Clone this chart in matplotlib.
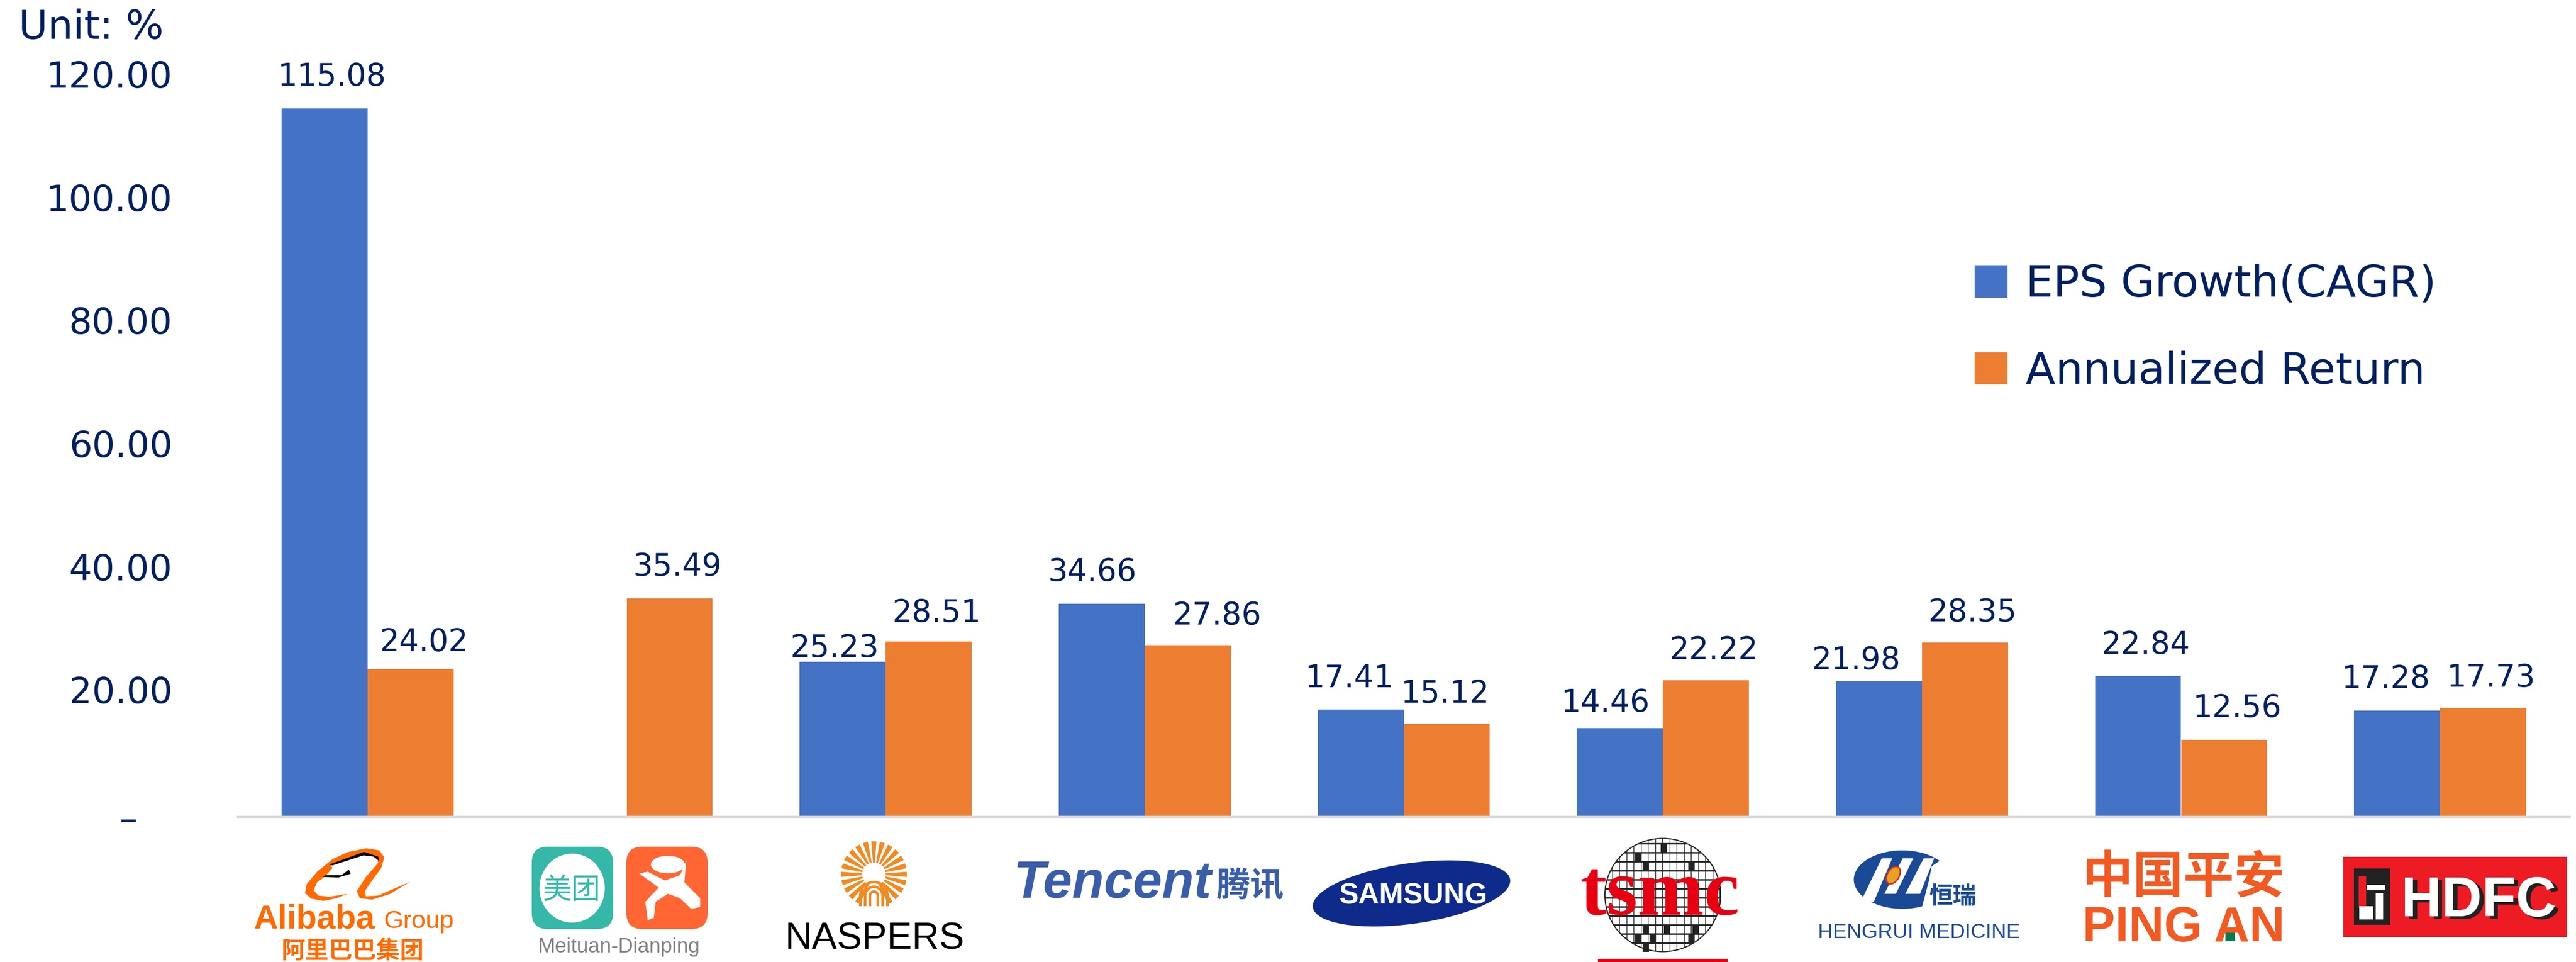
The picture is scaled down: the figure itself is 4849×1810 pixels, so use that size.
import numpy as np
import matplotlib
matplotlib.use("Agg")
import matplotlib.pyplot as plt
from matplotlib.patches import Ellipse, FancyBboxPatch, Polygon, Rectangle, Wedge
from matplotlib.transforms import ScaledTranslation

##EPS growth vs annualized return, one pair of bars per company
companies = ["Alibaba", "Meituan", "Naspers", "Tencent", "Samsung", "TSMC", "Hengrui", "Ping An", "HDFC"]
eps_growth = [115.08, np.nan, 25.23, 34.66, 17.41, 14.46, 21.98, 22.84, 17.28]
annual_return = [24.02, 35.49, 28.51, 27.86, 15.12, 22.22, 28.35, 12.56, 17.73]
y_ticks = [0, 20, 40, 60, 80, 100, 120]

NAVY = "#002060"
BLUE = "#4472C4"
ORANGE = "#ED7D31"

#label nudges in pixels, the labels are hand placed in the original
eps_dx = [14, 0, -15, -18, -21, -27, -43, 15, -21]
eps_dy = [59, 0, 25, 59, 59, 47, 40, 59, 59]
ret_dx = [25, 15, 15, 55, -3, 15, 15, 25, 15]
ret_dy = [50, 59, 53, 56, 56, 56, 56, 59, 56]

W, H = 4849, 1810
fig = plt.figure(figsize=(W / 100, H / 100), dpi=100)
ax = fig.add_axes([448 / W, (H - 1537) / H, (4837 - 448) / W, (1537 - 147) / H])

x = np.arange(len(companies))
bar_w = 0.332
ax.bar(x - bar_w / 2, eps_growth, bar_w, color=BLUE, label="EPS Growth(CAGR)")
ax.bar(x + bar_w / 2, annual_return, bar_w, color=ORANGE, label="Annualized Return")
ax.set_xlim(-0.5, 8.5)
ax.set_ylim(0, 120)

for i in range(len(x)):
    if not np.isnan(eps_growth[i]):
        ax.annotate("%.2f" % eps_growth[i], (x[i] - bar_w / 2, eps_growth[i]), xytext=(eps_dx[i], eps_dy[i]),
                    textcoords="offset pixels", ha="center", va="center", fontsize=42, color=NAVY)
    ax.annotate("%.2f" % annual_return[i], (x[i] + bar_w / 2, annual_return[i]), xytext=(ret_dx[i], ret_dy[i]),
                textcoords="offset pixels", ha="center", va="center", fontsize=42, color=NAVY)

ax.set_xticks([])
ax.set_yticks(y_ticks)
ax.set_yticklabels(["–\u00a0\u00a0\u00a0"] + ["%.2f" % t for t in y_ticks[1:]], fontsize=49, color=NAVY)
ax.tick_params(axis="y", length=0, pad=89)
#the number labels sit a little above their gridline position
for lab in ax.get_yticklabels()[1:]:
    lab.set_transform(lab.get_transform() + ScaledTranslation(0, 8 / 100, fig.dpi_scale_trans))
for s in ["top", "right", "left"]:
    ax.spines[s].set_visible(False)
ax.spines["bottom"].set_color("#D9D9D9")
ax.spines["bottom"].set_linewidth(3)

leg = ax.legend(loc="upper left", bbox_to_anchor=(3717 / W, 1 - 496 / H), bbox_transform=fig.transFigure,
                frameon=False, fontsize=59, handlelength=0.76, handleheight=0.76, handletextpad=0.41,
                labelspacing=1.03, labelcolor=NAVY, borderpad=0, borderaxespad=0)

fig.text(35 / W, 1 - 73 / H, "Unit: %", fontsize=54, color=NAVY, ha="left", va="baseline")

#logos under the axis, drawn on an overlay in picture pixels
over = fig.add_axes([0, 0, 1, 1])
over.set_xlim(0, W)
over.set_ylim(H, 0)
over.axis("off")
over.patch.set_alpha(0)
renderer = fig.canvas.get_renderer()


def logo_text(s, x0, x1, ybase, color, **kw):
    t = over.text((x0 + x1) / 2, ybase, s, ha="center", va="baseline", color=color, fontsize=40, **kw)
    w = t.get_window_extent(renderer).width
    t.set_fontsize(40 * (x1 - x0) / w)
    return t


#helpers to go from the crops I measured on to picture pixels
def z1(pts):
    return [(a / 0.871, 1500 + b / 3) for a, b in pts]


def z3(pts):
    return [(3300 + a / 1.012, 1500 + b / 3) for a, b in pts]


def poly(pts, color, **kw):
    p = Polygon(pts, closed=True, facecolor=color, edgecolor="none", **kw)
    over.add_patch(p)
    return p


SANS = "Liberation Sans"
CJK = "Noto Sans CJK SC"

#alibaba
ALI = "#FF6A00"
poly(z1([(600, 288), (570, 310), (545, 350), (520, 420), (503, 490), (500, 540), (510, 572), (530, 585),
         (552, 570), (570, 545), (540, 562), (522, 555), (514, 525), (520, 480), (532, 450), (545, 400),
         (542, 380), (590, 325), (597, 308)]), ALI)
poly(z1([(600, 288), (622, 300), (630, 340), (625, 400), (610, 470), (598, 530), (600, 560), (620, 555),
         (672, 478), (640, 545), (610, 578), (590, 570), (585, 530), (600, 450), (620, 370), (618, 335),
         (597, 310)]), ALI)
poly(z1([(597, 308), (620, 335), (622, 360), (612, 335), (596, 328), (545, 385), (540, 380)]), "black")
poly(z1([(533, 440), (560, 440), (572, 408), (575, 432), (555, 453), (530, 450)]), "black")
logo_text("Alibaba", 478, 706, 1746, ALI, family=SANS, weight="bold")
logo_text("Group", 723, 855, 1746, ALI, family=SANS)
logo_text("阿里巴巴集团", 530, 798, 1803, ALI, family=CJK, weight="bold")

#meituan-dianping
over.add_patch(FancyBboxPatch((1001 + 30, 1593 + 30), 153 - 60, 155 - 60, boxstyle="round,pad=30,rounding_size=30",
                              facecolor="#35B8A8", edgecolor="none"))
over.add_patch(FancyBboxPatch((1179 + 30, 1593 + 30), 153 - 60, 155 - 60, boxstyle="round,pad=30,rounding_size=30",
                              facecolor="#FF6633", edgecolor="none"))
over.add_patch(Ellipse((1077, 1671), 123, 130, facecolor="white", edgecolor="none"))
logo_text("美团", 1022, 1131, 1692, "#35B8A8", family=CJK)
over.add_patch(Ellipse(z1([(1095, 380)])[0], 64, 33, facecolor="white", edgecolor="none"))
poly(z1([(1048, 430), (1062, 420), (1090, 470), (1115, 440), (1125, 360), (1122, 480), (1148, 570), (1148, 620),
         (1133, 630), (1115, 570), (1095, 545), (1075, 590), (1072, 680), (1062, 695), (1058, 590),
         (1080, 510)]), "white")
logo_text("Meituan-Dianping", 1013, 1318, 1792, "#7F7F7F", family=SANS)

#naspers, y runs downward here so 90 degrees is the bottom of the sun
NAS = "#F08A24"
cx, cy = 1645, 1645
for a in np.arange(0, 360, 15):
    if a < 65 or a > 115:
        over.add_patch(Wedge((cx, cy), 62, a - 4.5, a + 4.5, width=40, facecolor=NAS, edgecolor="none"))
for r in [10, 19, 28]:
    over.add_patch(Wedge((cx, cy + 40), r, 180, 360, width=5, facecolor=NAS, edgecolor="none"))
    over.add_patch(Rectangle((cx - r, cy + 40), 5, 20, facecolor=NAS, edgecolor="none"))
    over.add_patch(Rectangle((cx + r - 5, cy + 40), 5, 20, facecolor=NAS, edgecolor="none"))
logo_text("NASPERS", 1478, 1815, 1785, "black", family=SANS)

#tencent
TEN = "#3A5DAA"
logo_text("Tencent", 1907, 2280, 1689, TEN, family=SANS, weight="bold", style="italic")
logo_text("腾讯", 2290, 2417, 1686, TEN, family=CJK, weight="bold")

#samsung
over.add_patch(Ellipse((2657, 1681), 375, 114, angle=-8, facecolor="#0E2A8A", edgecolor="none"))
logo_text("SAMSUNG", 2520, 2800, 1700, "white", family=SANS, weight="bold")

#tsmc wafer
wafer = Ellipse((3130, 1684), 218, 213, facecolor="white", edgecolor="#222222", linewidth=1.5)
over.add_patch(wafer)
for gx in np.arange(3021, 3240, 13.5):
    over.plot([gx, gx], [1578, 1791], color="#222222", lw=1)[0].set_clip_path(wafer)
for gy in np.arange(1587, 1791, 17):
    over.plot([3021, 3240], [gy, gy], color="#222222", lw=2)[0].set_clip_path(wafer)
for dx, dy in [(3126, 1587), (3078, 1604), (3092, 1621), (3178, 1621), (3092, 1740), (3132, 1740), (3186, 1740),
               (3078, 1757), (3105, 1757), (3178, 1757), (3092, 1774)]:
    over.add_patch(Rectangle((dx, dy), 12, 17, facecolor="#222222", edgecolor="none"))
logo_text("tsmc", 2975, 3275, 1721, "#E60012", family="Liberation Serif", weight="bold")
over.add_patch(Rectangle((3008, 1804), 244, 6, facecolor="#E60012", edgecolor="none"))

#hengrui
HEN = "#1A4A96"
over.add_patch(Ellipse((3581, 1655), 183, 110, facecolor=HEN, edgecolor="none"))
poly(z3([(245, 345), (265, 345), (230, 590), (205, 590)]), "white")
poly(z3([(285, 345), (305, 345), (272, 545), (250, 545)]), "white")
poly(z3([(325, 345), (345, 345), (318, 545), (290, 545)]), "white")
poly(z3([(340, 390), (360, 350), (385, 400), (430, 480), (430, 640), (320, 640), (335, 470)]), "white")
over.add_patch(Ellipse(z3([(267, 440)])[0], 36, 22, angle=-60, facecolor="#E8A020", edgecolor="#D03020", linewidth=2))
logo_text("恒瑞", 3631, 3720, 1700, HEN, family=CJK, weight="bold")
logo_text("HENGRUI MEDICINE", 3423, 3802, 1765, HEN, family=SANS)

#ping an
PA = "#F15A22"
logo_text("中国平安", 3920, 4301, 1680, PA, family=CJK, weight="bold")
logo_text("PING AN", 3920, 4301, 1771, PA, family=SANS, weight="bold")
over.add_patch(Rectangle((4189, 1752), 18, 19, facecolor="#0A7A50", edgecolor="none"))

#hdfc
over.add_patch(Rectangle((4411, 1612), 421, 151, facecolor="#ED1C24", edgecolor="none"))
over.add_patch(Rectangle((4431, 1634), 68, 106, facecolor="#222222", edgecolor="none"))
over.add_patch(Rectangle((4440, 1648), 14, 60, facecolor="#ED1C24", edgecolor="none"))
over.add_patch(Rectangle((4441, 1705), 26, 25, facecolor="white", edgecolor="none"))
over.add_patch(Rectangle((4472, 1680), 14, 50, facecolor="white", edgecolor="none"))
over.add_patch(Rectangle((4455, 1665), 35, 10, facecolor="white", edgecolor="none"))
logo_text("HDFC", 4528, 4820, 1729, "#222222", family=SANS, weight="bold")
logo_text("HDFC", 4520, 4812, 1724, "white", family=SANS, weight="bold")

fig.savefig("out.png", dpi=100)
